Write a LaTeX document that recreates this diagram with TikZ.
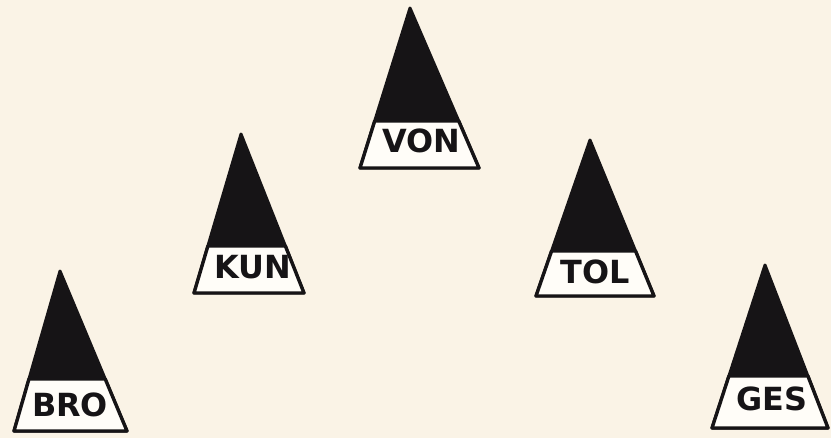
\documentclass[tikz,border=0pt]{standalone}
\usepackage{fontspec}
\setmainfont{DejaVu Sans}
\usetikzlibrary{calc}
\definecolor{paper}{RGB}{250,243,230}
\definecolor{ink}{RGB}{22,20,22}
\definecolor{bandwhite}{RGB}{255,253,248}
\tikzset{
  peakfill/.style={fill=ink, draw=ink, line width=3bp, line join=round},
  bandbox/.style={fill=bandwhite, draw=ink, line width=3.4bp, line join=round},
  lbl/.style={inner sep=0pt, text=ink, font=\bfseries\fontsize{32}{32}\selectfont}
}
\newcommand{\peak}[9]{%
  \coordinate (#1-a) at (#2,#3);
  \coordinate (#1-l) at (#5,#4);
  \coordinate (#1-r) at (#6,#4);
  \pgfmathsetmacro\bandt{(#7-#3)/(#4-#3)}
  \path[peakfill] (#1-a) -- (#1-l) -- (#1-r) -- cycle;
  \coordinate (#1-bl) at ($(#1-a)!\bandt!(#1-l)$);
  \coordinate (#1-br) at ($(#1-a)!\bandt!(#1-r)$);
  \draw[bandbox] (#1-bl) -- (#1-l) -- (#1-r) -- (#1-br) -- cycle;
  \node[lbl] (#1) at (#9) {#8};
}
\begin{document}
\begin{tikzpicture}[x=1bp,y=-1bp]
\useasboundingbox[fill=paper] (0,0) rectangle (831,438);
\peak{von}{410}{8}{168}{360}{479}{121}{VON}{421,141}
\peak{kun}{241}{134}{293}{194}{304}{246}{KUN}{253,267}
\peak{tol}{590}{140}{296}{536}{654}{251}{TOL}{595,272}
\peak{bro}{60}{271}{431}{14}{127}{379}{BRO}{70,405}
\peak{ges}{765}{265}{428}{712}{828}{376}{GES}{772,399}
\end{tikzpicture}
\end{document}
